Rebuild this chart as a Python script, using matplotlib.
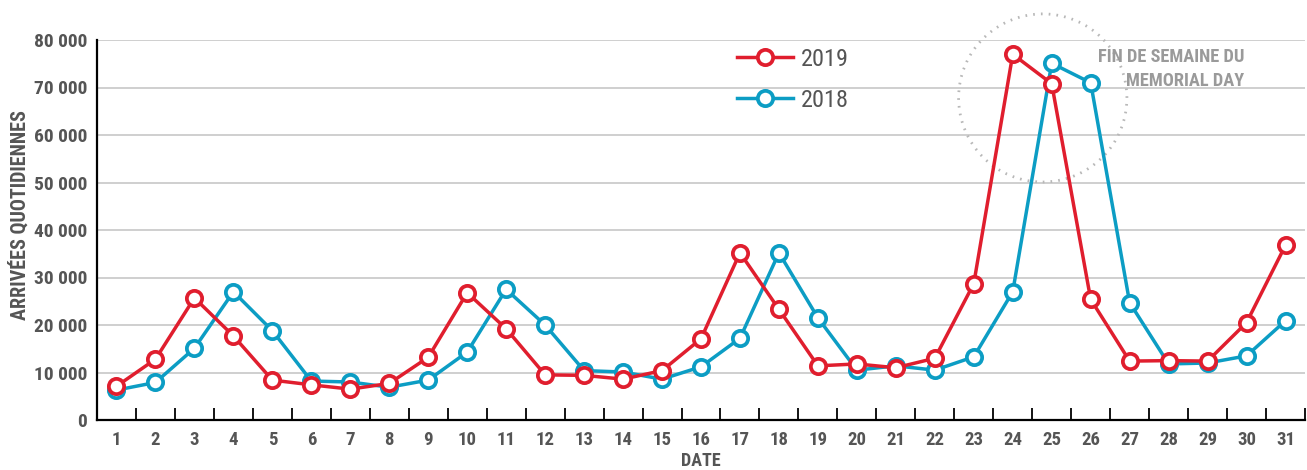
import matplotlib
matplotlib.use("Agg")
import matplotlib.pyplot as plt
from matplotlib import font_manager
from matplotlib.patches import Ellipse
from matplotlib.ticker import FuncFormatter, FixedLocator

days = list(range(1, 32))
arrivals_2019 = [7100, 12800, 25700, 17700, 8400, 7400, 6500, 7700, 13200, 26800,
                 19200, 9500, 9400, 8600, 10400, 17100, 35200, 23300, 11400, 11800,
                 11000, 13000, 28700, 77000, 70800, 25400, 12400, 12500, 12400, 20500,
                 36800]
arrivals_2018 = [6300, 7900, 15100, 27000, 18800, 8200, 8000, 6900, 8400, 14300,
                 27500, 20000, 10400, 10100, 8600, 11200, 17200, 35200, 21500, 10500,
                 11400, 10500, 13300, 27000, 75100, 71000, 24700, 11800, 12000, 13500,
                 20900]
y_ticks = [0, 10000, 20000, 30000, 40000, 50000, 60000, 70000, 80000]
series_labels = ["2019", "2018"]
y_label = "ARRIVÉES QUOTIDIENNES"
x_label = "DATE"
annotation = "FIN DE SEMAINE DU\nMEMORIAL DAY"

RED = "#E01E2E"
BLUE = "#0C9DC4"
TXT = "#555555"

available = {f.name for f in font_manager.fontManager.ttflist}
cands = ["Roboto Condensed", "Archivo Narrow", "Asap Condensed", "Liberation Sans Narrow",
         "DejaVu Sans Condensed"]
chosen = [c for c in cands if c in available][:1]
FONT = chosen + ["DejaVu Sans"]
plt.rcParams["font.family"] = FONT

fig = plt.figure(figsize=(13.07, 4.70), dpi=100)
ax = fig.add_axes([97/1307, 50/470, (1305-97)/1307, 380/470])

ax.set_xlim(0.5, 31.5)
ax.set_ylim(0, 80000)

for v in y_ticks[1:]:
    ax.axhline(v, color="#cccccc", lw=1.3, zorder=0)

kw = dict(lw=2.5, marker="o", markersize=11, markerfacecolor="white", markeredgewidth=2.7)
l18, = ax.plot(days, arrivals_2018, color=BLUE, zorder=3, **kw)
l19, = ax.plot(days, arrivals_2019, color=RED, zorder=4, **kw)

ax.legend([l19, l18], series_labels, loc="upper left", bbox_to_anchor=(0.53, 0.98),
          frameon=False, borderpad=0, borderaxespad=0, handlelength=2.3,
          handletextpad=0.3, labelspacing=0.75, prop={"family": FONT, "size": 17.5},
          labelcolor=TXT)

# Memorial Day circle
ell = Ellipse((24.77, 67800), width=2 * 2.16, height=2 * 17700, fill=False,
              edgecolor="#b8b8b8", lw=2, linestyle=(0, (0.6, 2.2)), clip_on=False, zorder=2)
ax.add_patch(ell)
ax.text(29.95, 78400, annotation, ha="right", va="top", color="#9a9a9a",
        fontsize=13.2, fontweight="bold", linespacing=1.45, zorder=5)

for s in ["top", "right"]:
    ax.spines[s].set_visible(False)
for s in ["left", "bottom"]:
    ax.spines[s].set_color("black")
    ax.spines[s].set_linewidth(1.6)

ax.xaxis.set_major_locator(FixedLocator(days))
ax.xaxis.set_minor_locator(FixedLocator([d + 0.5 for d in days]))
ax.tick_params(axis="x", which="major", length=0, pad=8, labelsize=13.5, labelcolor=TXT)
ax.tick_params(axis="x", which="minor", direction="in", length=9, width=1.3, color="black")
for lab in ax.get_xticklabels():
    lab.set_fontweight("bold")

ax.set_yticks(y_ticks)
ax.yaxis.set_major_formatter(FuncFormatter(lambda v, p: f"{int(v):,}".replace(",", " ")))
ax.tick_params(axis="y", length=0, pad=7, labelsize=14, labelcolor=TXT)
for lab in ax.get_yticklabels():
    lab.set_fontweight("bold")

ax.set_ylabel(y_label, fontsize=14.5, color=TXT, fontweight="bold")
ax.yaxis.set_label_coords(-0.056, 0.54)
ax.set_xlabel(x_label, fontsize=13, color=TXT, fontweight="bold", labelpad=2)

fig.savefig("out.png", dpi=100)
